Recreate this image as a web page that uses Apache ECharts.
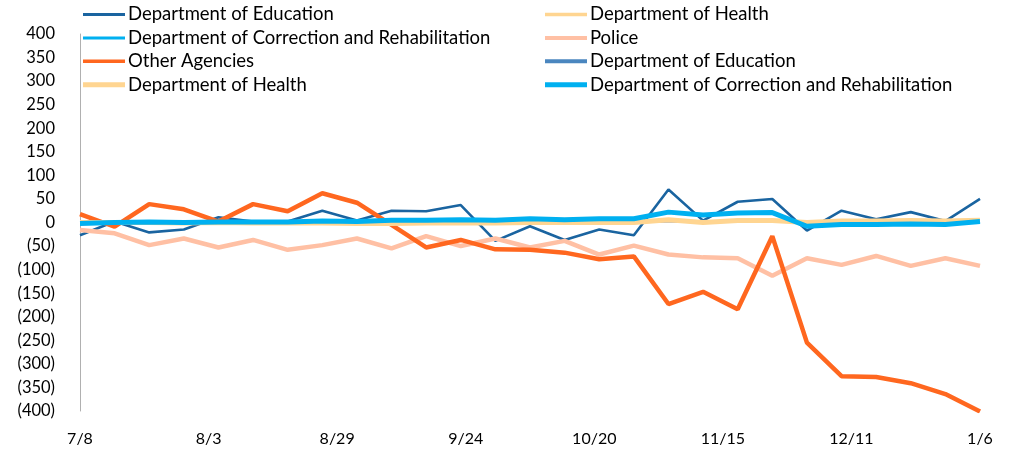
<!DOCTYPE html>
<html>
<head>
<meta charset="utf-8">
<script src="https://cdn.jsdelivr.net/npm/echarts@6/dist/echarts.min.js"></script>
<style>
html,body{margin:0;padding:0;background:#fff;}
#chart{width:1015px;height:451px;}
</style>
</head>
<body>
<div id="chart"></div>
<script>
// Weekly dates (x values)
const weeks = ['2019-07-08','2019-07-15','2019-07-22','2019-07-29','2019-08-05','2019-08-12','2019-08-19','2019-08-26',
  '2019-09-02','2019-09-09','2019-09-16','2019-09-23','2019-09-30','2019-10-07','2019-10-14','2019-10-21','2019-10-28',
  '2019-11-04','2019-11-11','2019-11-18','2019-11-25','2019-12-02','2019-12-09','2019-12-16','2019-12-23','2019-12-30','2020-01-06'];

const education  = [-27, 2, -21, -15, 11, 2, 2, 25, 4, 25, 24, 37, -39, -8, -37, -15, -27, 70, 4, 44, 50, -17, 25, 7, 22, 3, 50];
const health     = [0, 0, 0, -1, 0, -1, -1, -1, -2, -2, -1, -1, -1, 0, 0, 0, 0, 6, 0, 4, 4, 0, 3, 3, 4, 3, 5];
const correction = [-2, 0, 1, 0, 1, 1, 1, 3, 2, 5, 5, 6, 5, 8, 6, 8, 8, 22, 16, 20, 21, -8, -4, -4, -3, -4, 2];
const police     = [-16, -23, -48, -34, -53, -37, -58, -48, -34, -55, -29, -50, -34, -53, -39, -68, -49, -68, -74, -76, -113, -76, -90, -71, -92, -76, -92];
const otherAgencies = [18, -9, 39, 28, 2, 39, 24, 62, 42, -5, -53, -37, -57, -58, -64, -78, -72, -173, -147, -184, -29, -255, -326, -328, -341, -364, -401];
const education2 = [];

const yTicks = { min: -400, max: 400, step: 50 };
const xTickDays = 26;

const DAY = 86400000;
function toUTC(s){ const p = s.split('-').map(Number); return Date.UTC(p[0], p[1]-1, p[2]); }
const t0 = toUTC(weeks[0]);
const xDays = weeks.map(w => Math.round((toUTC(w) - t0) / DAY));
const xMax = xDays[xDays.length - 1];
function pair(arr){ return arr.map((v, i) => [xDays[i], v]); }

const FONT = 'Lato';
const chart = echarts.init(document.getElementById('chart'));

function lineIcon(h){ return 'path://M0,0L42,0L42,' + h + 'L0,' + h + 'Z'; }

const legendCommon = {
  orient: 'vertical',
  padding: 0,
  itemWidth: 42,
  itemHeight: 14,
  itemGap: 4.4,
  textStyle: { fontFamily: FONT, fontSize: 18.5, color: '#000', lineHeight: 19, padding: [0,0,0,-2] },
  formatter: n => n.trim(),
  selectedMode: false
};

const option = {
  animation: false,
  backgroundColor: '#fff',
  grid: { left: 80, right: 35, top: 34, bottom: 40, containLabel: false },
  legend: [
    Object.assign({}, legendCommon, {
      left: 83, top: 5,
      data: [
        { name: 'Department of Education', icon: lineIcon(3) },
        { name: 'Department of Correction and Rehabilitation', icon: lineIcon(3) },
        { name: 'Other Agencies', icon: lineIcon(3.5) },
        { name: 'Department of Health ', icon: lineIcon(5) }
      ]
    }),
    Object.assign({}, legendCommon, {
      left: 545, top: 5,
      data: [
        { name: 'Department of Health', icon: lineIcon(3.5) },
        { name: 'Police', icon: lineIcon(4) },
        { name: 'Department of Education ', icon: lineIcon(4) },
        { name: 'Department of Correction and Rehabilitation ', icon: lineIcon(5) }
      ]
    })
  ],
  xAxis: {
    type: 'value',
    min: 0, max: xMax, interval: xTickDays,
    axisLine: { show: false },
    axisTick: { show: false },
    splitLine: { show: false },
    axisLabel: {
      fontFamily: FONT, fontSize: 16, color: '#000', margin: 20,
      formatter: v => { const d = new Date(t0 + v * DAY); return (d.getUTCMonth()+1) + '/' + d.getUTCDate(); }
    }
  },
  yAxis: {
    type: 'value',
    min: yTicks.min, max: yTicks.max, interval: yTicks.step,
    axisLine: { show: true, lineStyle: { color: '#b0b0b0', width: 1 } },
    axisTick: { show: false },
    splitLine: { show: false },
    axisLabel: {
      fontFamily: FONT, fontSize: 16.5, color: '#000', margin: 25,
      formatter: v => v < 0 ? '(' + Math.abs(v) + ')' : String(v)
    }
  },
  series: [
    { name: 'Department of Education', type: 'line', data: pair(education), symbol: 'none',
      lineStyle: { color: '#1a64a0', width: 2.6 }, itemStyle: { color: '#1a64a0' }, z: 2,
      markLine: { silent: true, symbol: 'none', label: { show: false },
        lineStyle: { color: '#bdbdbd', width: 1, type: 'solid' }, data: [{ yAxis: 0 }] } },
    { name: 'Department of Health', type: 'line', data: pair(health), symbol: 'none',
      lineStyle: { color: '#ffd591', width: 3 }, itemStyle: { color: '#ffd591' }, z: 2 },
    { name: 'Department of Correction and Rehabilitation', type: 'line', data: pair(correction), symbol: 'none',
      lineStyle: { color: '#00b0f0', width: 3 }, itemStyle: { color: '#00b0f0' }, z: 2 },
    { name: 'Police', type: 'line', data: pair(police), symbol: 'none',
      lineStyle: { color: '#ffc0a4', width: 4.5 }, itemStyle: { color: '#ffc0a4' }, z: 3 },
    { name: 'Other Agencies', type: 'line', data: pair(otherAgencies), symbol: 'none',
      lineStyle: { color: '#ff671f', width: 4.5 }, itemStyle: { color: '#ff671f' }, z: 4 },
    { name: 'Department of Education ', type: 'line', data: pair(education2), symbol: 'none',
      lineStyle: { color: '#4a86bf', width: 4 }, itemStyle: { color: '#4a86bf' }, z: 5 },
    { name: 'Department of Health ', type: 'line', data: pair(health), symbol: 'none',
      lineStyle: { color: '#ffd591', width: 5 }, itemStyle: { color: '#ffd591' }, z: 5 },
    { name: 'Department of Correction and Rehabilitation ', type: 'line', data: pair(correction), symbol: 'none',
      lineStyle: { color: '#00b0f0', width: 5 }, itemStyle: { color: '#00b0f0' }, z: 6 }
  ]
};
chart.setOption(option);
</script>
</body>
</html>
